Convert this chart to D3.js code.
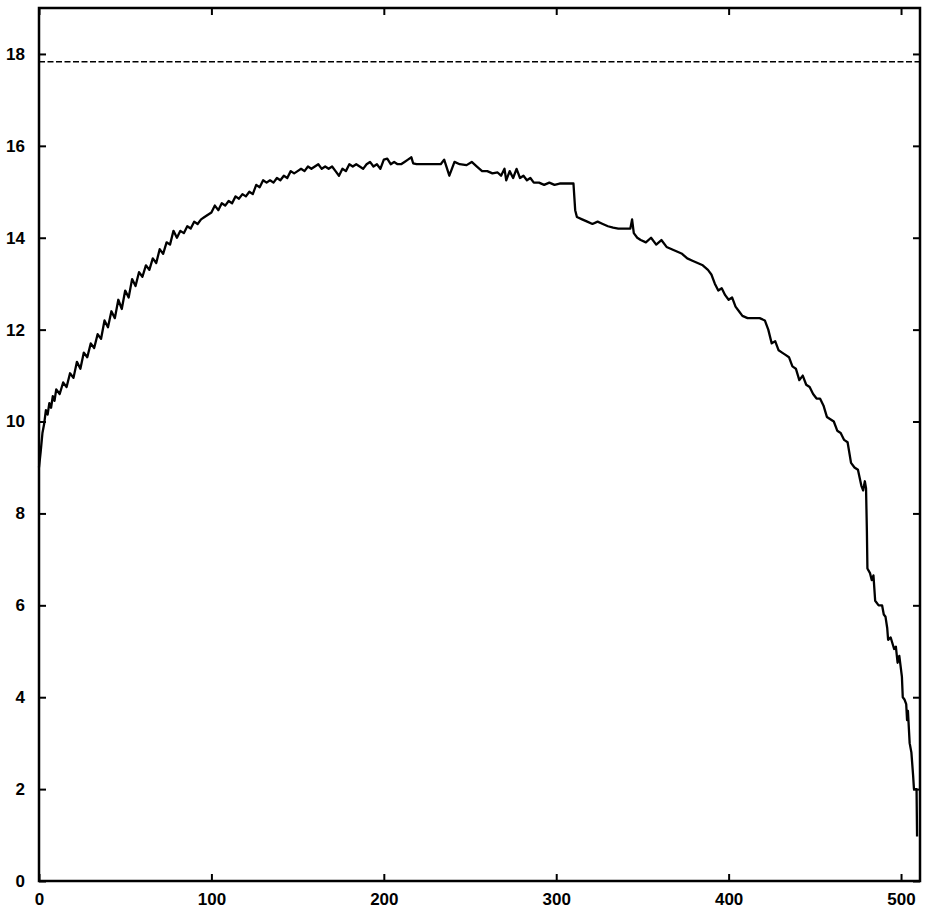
<!DOCTYPE html>
<meta charset="utf-8">
<html>
<head>
<style>
  body { margin: 0; background: #fff; }
  .tick text { font-family: "Liberation Sans", Arial, sans-serif; font-weight: bold; font-size: 17px; fill: #000; }
  .tick line { stroke: #000; stroke-width: 2; }
</style>
</head>
<body>
<div id="my_dataviz"></div>

<script src="https://d3js.org/d3.v7.min.js"></script>
<script>

  // values
  var steps = [0, 1, 2, 3, 4, 5, 6, 7, 8, 9, 10, 12, 14, 16, 18, 20, 22, 24, 26, 28, 30, 32, 34, 36, 38, 40,
    42, 44, 46, 48, 50, 52, 54, 56, 58, 60, 62, 64, 66, 68, 70, 72, 74, 76, 78, 80, 82, 84, 86, 88, 90,
    92, 94, 96, 98, 100, 102, 104, 106, 108, 110, 112, 114, 116, 118, 120, 122, 124, 126, 128, 130, 132,
    134, 136, 138, 140, 142, 144, 146, 148, 150, 152, 154, 156, 158, 160, 162, 164, 166, 168, 170, 172,
    174, 176, 178, 180, 182, 184, 186, 188, 190, 192, 194, 196, 198, 200, 202, 204, 206, 208, 210, 212,
    214, 216, 217, 219, 233, 235, 238, 241, 244, 248, 251, 254, 257, 260, 263, 266, 268, 270, 271, 273,
    275, 277, 279, 281, 283, 285, 287, 290, 293, 296, 299, 302, 310, 311, 312, 315, 318, 321, 324, 327,
    330, 333, 336, 340, 343, 344, 345, 347, 349, 352, 355, 358, 361, 364, 367, 370, 373, 376, 379, 382,
    385, 388, 390, 392, 394, 396, 398, 400, 402, 404, 406, 408, 411, 414, 418, 421, 423, 425, 427, 429,
    431, 433, 435, 437, 439, 441, 443, 445, 447, 449, 451, 453, 455, 457, 459, 461, 463, 465, 467, 469,
    471, 473, 475, 477, 478, 479, 479.7, 480.2, 480.5, 482, 483, 484, 485, 487, 489, 490, 491, 492,
    492.5, 494, 496, 497, 498, 499, 500.5, 501, 502, 503, 503.5, 504, 505, 506, 507, 507.5, 509, 509.3];

  var values = [9.0, 9.35, 9.75, 9.95, 10.25, 10.15, 10.4, 10.3, 10.55, 10.45, 10.7, 10.6, 10.85, 10.75,
    11.05, 10.95, 11.3, 11.15, 11.5, 11.4, 11.7, 11.6, 11.9, 11.8, 12.2, 12.05, 12.4, 12.25, 12.65, 12.45,
    12.85, 12.7, 13.1, 12.95, 13.25, 13.15, 13.4, 13.3, 13.55, 13.45, 13.75, 13.65, 13.9, 13.85, 14.15,
    14.0, 14.15, 14.1, 14.25, 14.2, 14.35, 14.3, 14.4, 14.45, 14.5, 14.55, 14.7, 14.6, 14.75, 14.7, 14.8,
    14.75, 14.9, 14.85, 14.95, 14.9, 15.0, 14.95, 15.15, 15.1, 15.25, 15.2, 15.25, 15.2, 15.3, 15.25,
    15.35, 15.3, 15.45, 15.4, 15.45, 15.5, 15.45, 15.55, 15.5, 15.55, 15.6, 15.5, 15.55, 15.5, 15.55,
    15.45, 15.35, 15.5, 15.45, 15.6, 15.55, 15.6, 15.55, 15.5, 15.6, 15.65, 15.55, 15.6, 15.5, 15.7,
    15.72, 15.6, 15.65, 15.6, 15.6, 15.65, 15.7, 15.75, 15.62, 15.6, 15.6, 15.7, 15.35, 15.65, 15.6,
    15.58, 15.65, 15.55, 15.45, 15.45, 15.4, 15.42, 15.35, 15.5, 15.25, 15.45, 15.3, 15.5, 15.3, 15.35,
    15.25, 15.3, 15.2, 15.2, 15.15, 15.2, 15.15, 15.18, 15.18, 14.6, 14.45, 14.4, 14.35, 14.3, 14.35,
    14.3, 14.25, 14.22, 14.2, 14.2, 14.2, 14.4, 14.1, 14.0, 13.95, 13.9, 14.0, 13.85, 13.95, 13.8, 13.75,
    13.7, 13.65, 13.55, 13.5, 13.45, 13.4, 13.3, 13.2, 13.0, 12.85, 12.9, 12.75, 12.65, 12.7, 12.5, 12.4,
    12.3, 12.25, 12.25, 12.25, 12.2, 12.0, 11.7, 11.75, 11.55, 11.5, 11.45, 11.4, 11.2, 11.15, 10.9, 11.0,
    10.8, 10.75, 10.6, 10.5, 10.5, 10.35, 10.1, 10.05, 10.0, 9.8, 9.75, 9.6, 9.55, 9.1, 9.0, 8.95, 8.6,
    8.5, 8.7, 8.55, 7.6, 6.8, 6.7, 6.55, 6.65, 6.1, 6.0, 6.0, 5.8, 5.75, 5.5, 5.25, 5.3, 5.05, 5.1,
    4.75, 4.9, 4.45, 4.0, 3.95, 3.85, 3.5, 3.7, 3.0, 2.8, 2.3, 2.0, 2.0, 0.97];

  var bound = 17.83;   // dashed reference level
  var xTicks = [0, 100, 200, 300, 400, 500];
  var yTicks = [0, 2, 4, 6, 8, 10, 12, 14, 16, 18];

  var data = steps.map(function(s, i) { return {x: s, y: values[i]}; });

  // set the dimensions and margins of the graph
  var margin = {top: 8, right: 6, bottom: 29, left: 39},
      width = 926 - margin.left - margin.right,
      height = 910 - margin.top - margin.bottom;

  var svg = d3.select("#my_dataviz")
    .append("svg")
      .attr("width", width + margin.left + margin.right)
      .attr("height", height + margin.top + margin.bottom)
    .append("g")
      .attr("transform", "translate(" + margin.left + "," + margin.top + ")");

  var x = d3.scaleLinear().domain([0, 511]).range([0, width]);
  var y = d3.scaleLinear().domain([0, 19]).range([height, 0]);

  // axes, ticks pointing inwards on all four sides
  svg.append("g")
    .attr("transform", "translate(0," + height + ")")
    .call(d3.axisBottom(x).tickValues(xTicks).tickSize(-7).tickPadding(12));
  svg.append("g")
    .call(d3.axisTop(x).tickValues(xTicks).tickSize(-7).tickFormat(""));
  svg.append("g")
    .call(d3.axisLeft(y).tickValues(yTicks).tickSize(-7).tickPadding(14));
  svg.append("g")
    .attr("transform", "translate(" + width + ",0)")
    .call(d3.axisRight(y).tickValues(yTicks).tickSize(-7).tickFormat(""));
  svg.selectAll(".domain").remove();

  // dashed level
  svg.append("line")
    .attr("x1", 0).attr("x2", width)
    .attr("y1", y(bound)).attr("y2", y(bound))
    .attr("stroke", "#000")
    .attr("stroke-width", 1.5)
    .attr("stroke-dasharray", "6,2.5");

  // the curve
  svg.append("path")
    .datum(data)
    .attr("fill", "none")
    .attr("stroke", "#000")
    .attr("stroke-width", 2.3)
    .attr("stroke-linejoin", "round")
    .attr("d", d3.line()
      .x(function(d) { return x(d.x) })
      .y(function(d) { return y(d.y) }));

  // frame
  svg.append("rect")
    .attr("width", width)
    .attr("height", height)
    .attr("fill", "none")
    .attr("stroke", "#000")
    .attr("stroke-width", 2.5);

</script>
</body>
</html>
